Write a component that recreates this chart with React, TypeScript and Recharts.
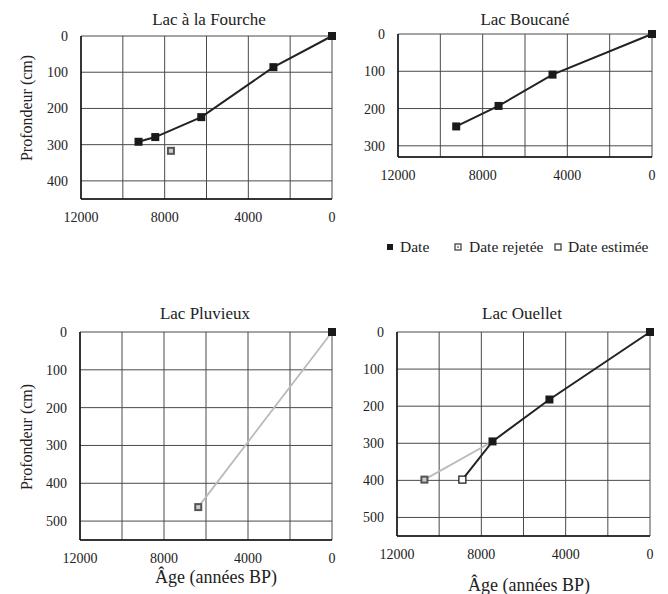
import React from 'react';
import { ScatterChart, Scatter, XAxis, YAxis, CartesianGrid } from 'recharts';

// ---- Data (age in years BP, depth in cm) ----
const fourcheDateAge = [0, 2800, 6250, 8450, 9250];
const fourcheDateDepth = [0, 86, 224, 279, 292];
const fourcheRejAge = [7700];
const fourcheRejDepth = [317];

const boucaneDateAge = [0, 4700, 7250, 9250];
const boucaneDateDepth = [0, 109, 193, 248];

const pluvieuxDateAge = [0];
const pluvieuxDateDepth = [0];
const pluvieuxRejAge = [6370];
const pluvieuxRejDepth = [463];

const ouelletDateAge = [0, 4770, 7470];
const ouelletDateDepth = [0, 182, 295];
const ouelletEstAge = [8900];
const ouelletEstDepth = [398];
const ouelletRejAge = [10700];
const ouelletRejDepth = [398];

const xTicks = [0, 2000, 4000, 6000, 8000, 10000, 12000];
const yTicks4 = [0, 100, 200, 300, 400];
const yTicks3 = [0, 100, 200, 300];
const yTicks5 = [0, 100, 200, 300, 400, 500];

const titles = ['Lac à la Fourche', 'Lac Boucané', 'Lac Pluvieux', 'Lac Ouellet'];
const legendLabels = ['Date', 'Date rejetée', 'Date estimée'];
const yLabel = 'Profondeur (cm)';
const xLabel = 'Âge (années BP)';

const zip = (a: number[], d: number[]) => a.map((age, i) => ({ age, depth: d[i] }));

const FONT = "'Liberation Serif', 'DejaVu Serif', serif";
const TXT = '#222';

const DateShape = (p: any) => (
  <rect x={p.cx - 4} y={p.cy - 4} width={8} height={8} fill="#1a1a1a" />
);
const RejShape = (p: any) => (
  <g>
    <rect x={p.cx - 4} y={p.cy - 4} width={8} height={8} fill="#555" />
    <rect x={p.cx - 2} y={p.cy - 2} width={4} height={4} fill="#ccc" />
  </g>
);
const EstShape = (p: any) => (
  <rect x={p.cx - 3.5} y={p.cy - 3.5} width={7} height={7} fill="#fff" stroke="#222" strokeWidth={1.3} />
);
const NoShape = () => <g />;

type SeriesDef = { data: { age: number; depth: number }[]; shape: any; line?: any };

const tickStyle = { fontFamily: FONT, fontSize: 14, fill: TXT };

const Panel = ({ x0, y0, x1, y1, yMax, yTicks, series }: {
  x0: number; y0: number; x1: number; y1: number; yMax: number; yTicks: number[]; series: SeriesDef[];
}) => {
  const width = x1 - x0 + 70;
  const height = y1 - y0 + 45;
  return (
    <div style={{ position: 'absolute', left: x0 - 60, top: y0 - 10, width, height, fontFamily: FONT }}>
      <ScatterChart width={width} height={height} margin={{ top: 10, right: 10, left: 10, bottom: 5 }}>
        <CartesianGrid stroke="#4a4a4a" strokeWidth={1} />
        <XAxis
          type="number"
          dataKey="age"
          domain={[0, 12000]}
          ticks={xTicks}
          reversed
          height={30}
          tickLine={false}
          tickSize={6}
          tickMargin={7}
          axisLine={{ stroke: '#111', strokeWidth: 1.5 }}
          tickFormatter={(v: number) => (v % 4000 === 0 ? String(v) : '')}
          tick={tickStyle}
          interval={0}
        />
        <YAxis
          type="number"
          dataKey="depth"
          domain={[0, yMax]}
          ticks={yTicks}
          reversed
          width={50}
          tickLine={false}
          tickSize={6}
          tickMargin={7}
          axisLine={{ stroke: '#111', strokeWidth: 1.5 }}
          tick={tickStyle}
          interval={0}
        />
        {series.map((s, i) => (
          <Scatter
            key={i}
            data={s.data}
            shape={s.shape}
            line={s.line || false}
            lineType="joint"
            isAnimationActive={false}
          />
        ))}
      </ScatterChart>
    </div>
  );
};

const darkLine = { stroke: '#222', strokeWidth: 2 };
const greyLine = { stroke: '#bbb', strokeWidth: 1.8 };

export default function App() {
  return (
    <div style={{ position: 'absolute', left: 0, top: 0, width: 668, height: 594, background: '#fff', overflow: 'hidden', fontFamily: FONT }}>
      <Panel
        x0={81} y0={36} x1={332} y1={199} yMax={450} yTicks={yTicks4}
        series={[
          { data: zip(fourcheDateAge, fourcheDateDepth), shape: DateShape, line: darkLine },
          { data: zip(fourcheRejAge, fourcheRejDepth), shape: RejShape },
        ]}
      />
      <Panel
        x0={398} y0={34} x1={652} y1={157} yMax={330} yTicks={yTicks3}
        series={[
          { data: zip(boucaneDateAge, boucaneDateDepth), shape: DateShape, line: darkLine },
        ]}
      />
      <Panel
        x0={80} y0={332} x1={332} y1={540} yMax={550} yTicks={yTicks5}
        series={[
          { data: zip(pluvieuxDateAge.concat(pluvieuxRejAge), pluvieuxDateDepth.concat(pluvieuxRejDepth)), shape: NoShape, line: greyLine },
          { data: zip(pluvieuxDateAge, pluvieuxDateDepth), shape: DateShape },
          { data: zip(pluvieuxRejAge, pluvieuxRejDepth), shape: RejShape },
        ]}
      />
      <Panel
        x0={397} y0={332} x1={650} y1={536} yMax={550} yTicks={yTicks5}
        series={[
          { data: zip([ouelletDateAge[2]].concat(ouelletRejAge), [ouelletDateDepth[2]].concat(ouelletRejDepth)), shape: NoShape, line: greyLine },
          { data: zip(ouelletDateAge.concat(ouelletEstAge), ouelletDateDepth.concat(ouelletEstDepth)), shape: NoShape, line: darkLine },
          { data: zip(ouelletDateAge, ouelletDateDepth), shape: DateShape },
          { data: zip(ouelletEstAge, ouelletEstDepth), shape: EstShape },
          { data: zip(ouelletRejAge, ouelletRejDepth), shape: RejShape },
        ]}
      />
      <svg width={668} height={594} style={{ position: 'absolute', left: 0, top: 0, pointerEvents: 'none', fontFamily: FONT }}>
        <g style={{ fontFamily: FONT }} fill={TXT} textAnchor="middle">
          <text x={209} y={25} fontSize={17}>{titles[0]}</text>
          <text x={525} y={25} fontSize={17}>{titles[1]}</text>
          <text x={205} y={319} fontSize={17}>{titles[2]}</text>
          <text x={522} y={319} fontSize={17}>{titles[3]}</text>
          <text x={216} y={583} fontSize={18}>{xLabel}</text>
          <text x={529} y={591} fontSize={18}>{xLabel}</text>
          <text transform="translate(32,108) rotate(-90)" fontSize={16}>{yLabel}</text>
          <text transform="translate(32,437) rotate(-90)" fontSize={16}>{yLabel}</text>
        </g>
        <g style={{ fontFamily: FONT }} fill={TXT} fontSize={15.5}>
          <rect x={387} y={244} width={6} height={6} fill="#1a1a1a" />
          <text x={400} y={252}>{legendLabels[0]}</text>
          <rect x={455} y={244} width={6} height={6} fill="#fff" stroke="#444" strokeWidth={1.3} />
          <rect x={457} y={246} width={2} height={2} fill="#999" />
          <text x={469} y={252}>{legendLabels[1]}</text>
          <rect x={555} y={244} width={6} height={6} fill="#fff" stroke="#333" strokeWidth={1.2} />
          <text x={568} y={252}>{legendLabels[2]}</text>
        </g>
      </svg>
    </div>
  );
}
